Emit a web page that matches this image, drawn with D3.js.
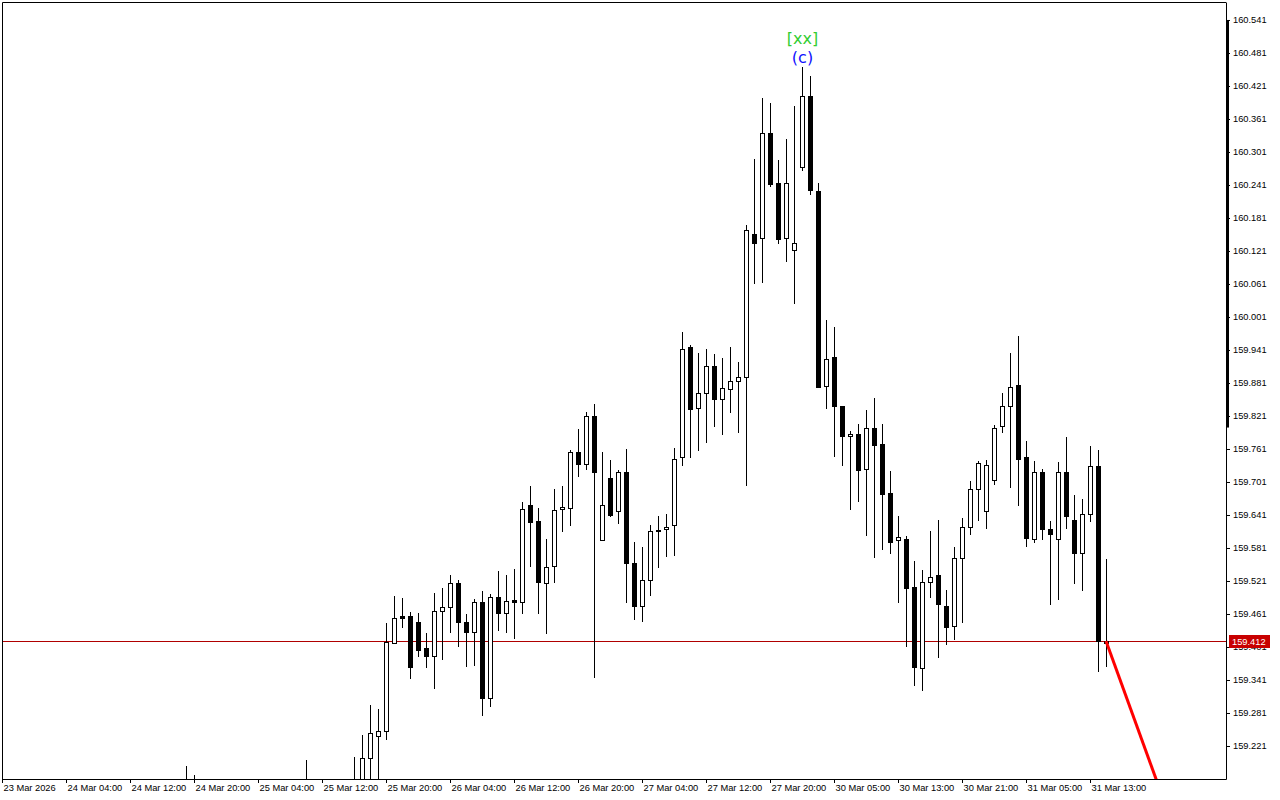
<!DOCTYPE html>
<html>
<head>
<meta charset="utf-8">
<script src="https://d3js.org/d3.v7.min.js"></script>
<style>
  body { margin: 0; background: #fff; }
  svg { display: block; }
</style>
</head>
<body>
<svg id="chart"></svg>
<script>
    // hourly bars, index 0 = 23 Mar 20:00
    const opens = [
        159.05,159.07,159.06,159.03,159.04,159.09,159.06,159.08,159.11,159.08,
        159.05,159.02,159.03,159.06,159.09,159.07,159.10,159.12,159.09,159.11,
        159.13,159.10,159.12,159.14,159.13,159.12,159.08,159.06,159.07,159.10,
        159.08,159.05,159.08,159.11,159.09,159.12,159.14,159.12,159.14,159.15,
        159.13,159.12,159.14,159.13,159.16,159.15,159.200,159.240,159.248,159.409,
        159.457,159.457,159.446,159.399,159.385,159.466,159.473,159.518,159.446,159.428,
        159.482,159.308,159.491,159.462,159.487,159.482,159.659,159.630,159.518,159.548,
        159.651,159.653,159.756,159.734,159.821,159.595,159.708,159.648,159.719,159.554,
        159.475,159.522,159.614,159.616,159.622,159.746,159.946,159.835,159.862,159.911,
        159.851,159.870,159.884,159.891,160.151,160.144,160.335,160.244,160.145,160.123,
        160.273,160.402,160.230,159.876,159.928,159.839,159.784,159.788,159.725,159.800,
        159.770,159.681,159.595,159.597,159.510,159.363,159.520,159.532,159.476,159.439,
        159.562,159.620,159.688,159.648,159.704,159.802,159.839,159.877,159.746,159.598,
        159.719,159.615,159.597,159.720,159.631,159.571,159.642,159.730,159.410
    ]
    const highs = [
        159.09,159.10,159.08,159.06,159.11,159.12,159.09,159.13,159.14,159.10,
        159.08,159.05,159.07,159.10,159.13,159.11,159.14,159.15,159.12,159.14,
        159.15,159.13,159.15,159.185,159.168,159.14,159.11,159.09,159.12,159.13,
        159.11,159.09,159.12,159.14,159.13,159.15,159.155,159.15,159.196,159.158,
        159.155,159.15,159.158,159.155,159.201,159.241,159.296,159.288,159.445,159.494,
        159.490,159.465,159.463,159.426,159.499,159.508,159.532,159.522,159.461,159.488,
        159.503,159.497,159.539,159.532,159.543,159.664,159.694,159.654,159.597,159.688,
        159.694,159.760,159.797,159.828,159.843,159.756,159.741,159.722,159.761,159.591,
        159.583,159.623,159.639,159.643,159.763,159.974,159.950,159.936,159.942,159.934,
        159.927,159.947,159.919,160.168,160.288,160.399,160.390,160.286,160.325,160.385,
        160.456,160.439,160.245,159.996,159.983,159.840,159.794,159.807,159.832,159.854,
        159.807,159.721,159.639,159.603,159.557,159.541,159.612,159.632,159.505,159.582,
        159.635,159.702,159.739,159.741,159.804,159.862,159.936,159.967,159.775,159.739,
        159.725,159.630,159.737,159.783,159.677,159.670,159.767,159.759,159.561
    ]
    const lows = [
        159.02,159.04,159.01,158.99,159.02,159.05,159.03,159.06,159.07,159.04,
        159.00,158.98,159.01,159.03,159.06,159.04,159.07,159.08,159.05,159.08,
        159.09,159.06,159.09,159.11,159.10,159.07,159.04,159.02,159.05,159.06,
        159.03,159.02,159.06,159.08,159.07,159.10,159.11,159.09,159.12,159.11,
        159.10,159.09,159.11,159.10,159.12,159.13,159.15,159.15,159.234,159.408,
        159.438,159.345,159.385,159.365,159.327,159.380,159.429,159.402,159.367,159.369,
        159.278,159.294,159.432,159.429,159.418,159.463,159.549,159.463,159.426,159.520,
        159.611,159.623,159.711,159.725,159.347,159.595,159.639,159.627,159.482,159.451,
        159.449,159.496,159.547,159.567,159.568,159.731,159.747,159.760,159.773,159.803,
        159.789,159.829,159.792,159.696,160.063,160.065,160.240,160.136,160.102,160.027,
        160.269,160.224,159.874,159.836,159.749,159.731,159.651,159.667,159.605,159.565,
        159.580,159.571,159.482,159.403,159.331,159.322,159.491,159.382,159.406,159.415,
        159.447,159.607,159.631,159.618,159.698,159.792,159.691,159.660,159.585,159.591,
        159.598,159.480,159.489,159.618,159.518,159.505,159.630,159.358,159.367
    ]
    const closes = [
        159.07,159.06,159.03,159.04,159.09,159.06,159.08,159.11,159.08,159.05,
        159.02,159.03,159.06,159.09,159.07,159.10,159.12,159.09,159.11,159.13,
        159.10,159.12,159.14,159.13,159.12,159.08,159.06,159.07,159.10,159.08,
        159.05,159.08,159.11,159.09,159.12,159.14,159.12,159.14,159.15,159.13,
        159.12,159.14,159.13,159.15,159.14,159.199,159.244,159.248,159.410,159.453,
        159.454,159.365,159.396,159.385,159.466,159.473,159.517,159.447,159.429,159.482,
        159.308,159.491,159.462,159.484,159.482,159.651,159.629,159.520,159.546,159.650,
        159.655,159.756,159.734,159.821,159.720,159.660,159.641,159.719,159.554,159.476,
        159.523,159.612,159.611,159.620,159.742,159.942,159.833,159.862,159.911,159.851,
        159.871,159.884,159.891,160.160,160.136,160.335,160.243,160.143,160.244,160.135,
        160.402,160.231,159.874,159.924,159.840,159.784,159.788,159.723,159.800,159.769,
        159.680,159.592,159.601,159.509,159.365,159.520,159.528,159.479,159.438,159.562,
        159.620,159.688,159.735,159.731,159.799,159.839,159.873,159.743,159.600,159.719,
        159.616,159.607,159.720,159.640,159.571,159.642,159.730,159.411,159.412
    ]

    const priceTicks = [160.541,160.481,160.421,160.361,160.301,160.241,160.181,160.121,160.061,160.001,
        159.941,159.881,159.821,159.761,159.701,159.641,159.581,159.521,159.461,159.401,159.341,159.281,159.221]
    const tickBars = [0,8,16,24,32,40,48,56,64,72,80,88,96,104,112,120,128,136]
    const timeLabels = ["23 Mar 2026","24 Mar 04:00","24 Mar 12:00","24 Mar 20:00","25 Mar 04:00","25 Mar 12:00",
        "25 Mar 20:00","26 Mar 04:00","26 Mar 12:00","26 Mar 20:00","27 Mar 04:00","27 Mar 12:00",
        "27 Mar 20:00","30 Mar 05:00","30 Mar 13:00","30 Mar 21:00","31 Mar 05:00","31 Mar 13:00"]

    // wave marks and projection
    const markBar = 100
    const markOuter = "[xx]"
    const markInner = "(c)"
    const projBars = [138, 146]
    const projPrices = [159.412, 159.091]
    const lastPrice = 159.412

    const W = 1280, H = 800
    const pLeft = 2, pRight = 1226, pTop = 2, pBottom = 779
    const font = '"Liberation Sans", Arial, sans-serif'

    let svg = d3.select('#chart')
        .attr('width', W)
        .attr('height', H)

    let x = d3.scaleLinear().domain([0, 153]).range([pLeft, pRight])
    let y = d3.scaleLinear().domain([159.161, 160.5737]).range([pBottom, pTop])

    svg.append('clipPath').attr('id', 'plot')
        .append('rect')
        .attr('x', pLeft).attr('y', pTop)
        .attr('width', pRight - pLeft).attr('height', pBottom - pTop)

    let plot = svg.append('g').attr('clip-path', 'url(#plot)')

    // current price line
    plot.append('line')
        .attr('x1', pLeft).attr('x2', pRight)
        .attr('y1', Math.round(y(lastPrice)) + 0.5)
        .attr('y2', Math.round(y(lastPrice)) + 0.5)
        .attr('stroke', '#b00000')
        .attr('stroke-width', 1)

    let bars = d3.range(opens.length)

    // wicks
    plot.selectAll('line.wick')
        .data(bars)
        .enter().append('line')
        .attr('class', 'wick')
        .attr('x1', d => Math.round(x(d)) + 0.5)
        .attr('x2', d => Math.round(x(d)) + 0.5)
        .attr('y1', d => Math.round(y(highs[d])))
        .attr('y2', d => Math.round(y(lows[d])) + 1)
        .attr('stroke', 'black')
        .attr('stroke-width', 1)

    // bodies
    plot.selectAll('rect.body')
        .data(bars)
        .enter().append('rect')
        .attr('class', 'body')
        .attr('shape-rendering', 'crispEdges')
        .each(function (d) {
            let cx = Math.round(x(d))
            let t = Math.round(y(Math.max(opens[d], closes[d])))
            let b = Math.round(y(Math.min(opens[d], closes[d])))
            let r = d3.select(this)
            if (closes[d] < opens[d]) {
                r.attr('x', cx - 2).attr('y', t)
                    .attr('width', 5).attr('height', Math.max(b - t + 1, 2))
                    .attr('fill', 'black')
            } else {
                r.attr('x', cx - 1.5).attr('y', t + 0.5)
                    .attr('width', 4).attr('height', Math.max(b - t, 2))
                    .attr('fill', 'white')
                    .attr('stroke', 'black')
                    .attr('stroke-width', 1)
            }
        })

    // projection
    plot.append('path')
        .datum(projBars.map((b, i) => [b, projPrices[i]]))
        .attr('d', d3.line().x(d => x(d[0])).y(d => y(d[1])))
        .attr('fill', 'none')
        .attr('stroke', '#ff0000')
        .attr('stroke-width', 3)

    // wave labels
    svg.append('text')
        .attr('x', x(markBar) + 0.5)
        .attr('y', y(highs[markBar]) - 23)
        .attr('text-anchor', 'middle')
        .style('font-family', '"DejaVu Sans", sans-serif')
        .style('font-size', '16px')
        .attr('fill', '#32cd32')
        .text(markOuter)

    svg.append('text')
        .attr('x', x(markBar) + 0.5)
        .attr('y', y(highs[markBar]) - 4)
        .attr('text-anchor', 'middle')
        .style('font-family', '"DejaVu Sans", sans-serif')
        .style('font-size', '16px')
        .attr('fill', '#1010ff')
        .text(markInner)

    // frame
    svg.append('path')
        .attr('d', `M${pRight},${pTop + 0.5}H${pLeft + 0.5}V${pBottom}`)
        .attr('fill', 'none')
        .attr('stroke', 'black')

    // axes
    let yAxis = d3.axisRight(y)
        .tickValues(priceTicks)
        .tickFormat(d3.format('.3f'))
        .tickSize(4)
        .tickSizeOuter(0)
        .tickPadding(3)

    svg.append('g')
        .attr('transform', `translate(${pRight},0)`)
        .call(yAxis)
        .attr('font-family', font)
        .attr('font-size', 9.3)

    let xAxis = d3.axisBottom(x)
        .tickValues(tickBars)
        .tickFormat((d, i) => timeLabels[i])
        .tickSize(4)
        .tickSizeOuter(0)
        .tickPadding(1)

    let gx = svg.append('g')
        .attr('transform', `translate(0,${pBottom})`)
        .call(xAxis)
        .attr('font-family', font)
        .attr('font-size', 9.3)
    gx.selectAll('text')
        .attr('text-anchor', 'start')
        .attr('x', 1)

    // scale thumb on the price axis
    svg.append('rect')
        .attr('x', pRight)
        .attr('y', y(160.541))
        .attr('width', 3)
        .attr('height', y(159.8) - y(160.541))
        .attr('fill', 'black')

    // last price tag
    let ly = Math.round(y(lastPrice))
    svg.append('rect')
        .attr('x', pRight + 3)
        .attr('y', ly - 6)
        .attr('width', 41)
        .attr('height', 13)
        .attr('fill', '#c80000')

    svg.append('text')
        .attr('x', pRight + 6)
        .attr('y', ly + 4)
        .style('font-family', font)
        .style('font-size', '9.3px')
        .attr('fill', 'white')
        .text(d3.format('.3f')(lastPrice))
</script>
</body>
</html>
